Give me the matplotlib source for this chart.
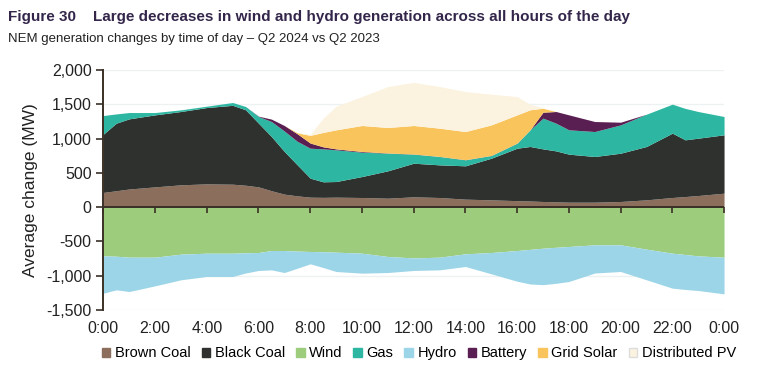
import numpy as np
import matplotlib.pyplot as plt
from matplotlib.patches import Patch

# hora del dia (algunas medias horas para seguir la forma)
horas = [0, 0.5, 1, 2, 3, 4, 5, 5.5, 6, 6.5, 7, 7.5, 8, 8.5, 9, 10, 11, 12,
         13, 14, 15, 16, 16.5, 17, 17.5, 18, 19, 20, 21, 22, 22.5, 23, 24]

brown_coal = [215, 240, 265, 296, 326, 340, 335, 320, 296, 240, 190, 165, 146,
              143, 146, 141, 131, 151, 141, 117, 107, 95, 90, 83, 78, 73, 73,
              83, 107, 141, 155, 170, 204]
black_coal = [849, 985, 1023, 1050, 1069, 1113, 1150, 1100, 929, 790, 622, 452,
              277, 227, 228, 306, 399, 490, 476, 486, 607, 765, 795, 767, 743,
              700, 666, 704, 778, 938, 827, 836, 851]
gas = [272, 135, 92, 34, 24, 20, 41, 48, 97, 219, 298, 343, 437, 480, 462, 355,
       257, 132, 122, 87, 39, 73, 243, 448, 404, 355, 364, 413, 471, 423, 458,
       389, 267]
battery = [0, 0, 0, 0, 0, 0, 0, 0, 5, 35, 80, 110, 75, 30, 14, 10, 3, 2, 1, 2,
           2, 2, 0, 87, 170, 218, 146, 39, 0, 0, 0, 0, 0]
grid_solar = [0, 0, 0, 0, 0, 0, 0, 0, 0, 0, 0, 15, 112, 210, 278, 379, 372,
              416, 412, 411, 445, 411, 292, 58, 0, 0, 0, 0, 0, 0, 0, 0, 0]
distributed_pv = [0, 0, 0, 0, 0, 0, 0, 0, 0, 0, 0, 0, 15, 207, 344, 422, 597,
                  629, 607, 583, 447, 267, 80, 7, 0, 0, 0, 0, 0, 0, 0, 0, 0]
wind = [-710, -715, -729, -729, -685, -671, -671, -665, -661, -632, -632, -640,
        -646, -650, -656, -671, -719, -740, -729, -680, -661, -632, -615, -598,
        -585, -573, -549, -549, -612, -671, -690, -710, -729]
hydro = [-544, -490, -501, -418, -374, -340, -340, -295, -262, -282, -321, -250,
         -180, -230, -282, -291, -234, -183, -185, -185, -311, -448, -505, -532,
         -525, -511, -411, -389, -447, -510, -510, -505, -535]

etiquetas_x = ["0:00", "2:00", "4:00", "6:00", "8:00", "10:00", "12:00",
               "14:00", "16:00", "18:00", "20:00", "22:00", "0:00"]

COLORES = {
    "Brown Coal": "#8b6e5c",
    "Black Coal": "#2f312e",
    "Wind": "#9ccc7c",
    "Gas": "#2db7a2",
    "Hydro": "#9cd5e8",
    "Battery": "#5a1f52",
    "Grid Solar": "#f9c45c",
    "Distributed PV": "#fbf3df",
}


def main():
    plt.rcParams["font.family"] = ["Liberation Sans", "DejaVu Sans"]
    x = np.array(horas)

    fig = plt.figure(figsize=(7.67, 3.74), dpi=100)
    ax = fig.add_axes([0.1347, 0.171, 0.8093, 0.6418])

    # apilado positivo
    base = np.zeros(len(x))
    for nombre, serie in [("Brown Coal", brown_coal), ("Black Coal", black_coal),
                          ("Gas", gas), ("Battery", battery),
                          ("Grid Solar", grid_solar),
                          ("Distributed PV", distributed_pv)]:
        tope = base + np.array(serie)
        ax.fill_between(x, base, tope, color=COLORES[nombre], lw=0, zorder=2)
        base = tope

    # apilado negativo
    base = np.zeros(len(x))
    for nombre, serie in [("Wind", wind), ("Hydro", hydro)]:
        tope = base + np.array(serie)
        ax.fill_between(x, base, tope, color=COLORES[nombre], lw=0, zorder=2)
        base = tope

    ax.set_xlim(0, 24)
    ax.set_ylim(-1500, 2000)
    ax.set_yticks(np.arange(-1500, 2001, 500))
    ax.set_yticklabels([f"{v:,}" for v in np.arange(-1500, 2001, 500)])
    ax.set_xticks(np.arange(0, 25, 2))
    ax.set_xticklabels(etiquetas_x)
    ax.tick_params(axis="x", length=0, pad=8, labelsize=11.5, colors="#222222")
    ax.tick_params(axis="y", length=5, width=1.2, color="#3a3026",
                   labelsize=11.5, colors="#222222")
    ax.grid(axis="y", color="#eef1f2", lw=1, zorder=0)

    for lado in ["top", "right", "bottom"]:
        ax.spines[lado].set_visible(False)
    ax.spines["left"].set_color("#3a3026")
    ax.spines["left"].set_linewidth(1.4)

    # eje en cero con marcas hacia abajo
    ax.axhline(0, color="#3a3026", lw=1.4, zorder=3)
    ax.plot(np.arange(0, 25, 2), np.zeros(13), ls="", marker=3, ms=4,
            mew=1.2, color="#3a3026", zorder=3, clip_on=False)

    ax.set_ylabel("Average change (MW)", fontsize=12.5, color="#222222",
                  labelpad=6)

    fig.text(0.011, 0.955, "Figure 30    Large decreases in wind and hydro "
             "generation across all hours of the day", fontsize=11,
             fontweight="bold", color="#33264a", va="center")
    fig.text(0.011, 0.897, "NEM generation changes by time of day \u2013 "
             "Q2 2024 vs Q2 2023", fontsize=9.5, color="#222222", va="center")

    orden = ["Brown Coal", "Black Coal", "Wind", "Gas", "Hydro", "Battery",
             "Grid Solar", "Distributed PV"]
    manijas = [Patch(facecolor=COLORES[n],
                     edgecolor="#dddddd" if n == "Distributed PV" else COLORES[n])
               for n in orden]
    fig.legend(manijas, orden, loc="center", bbox_to_anchor=(0.546, 0.055),
               ncol=8, frameon=False, fontsize=10.5, handlelength=0.6,
               handleheight=0.6, handletextpad=0.3, columnspacing=0.75)

    fig.savefig("out.png", dpi=100)


if __name__ == "__main__":
    main()
